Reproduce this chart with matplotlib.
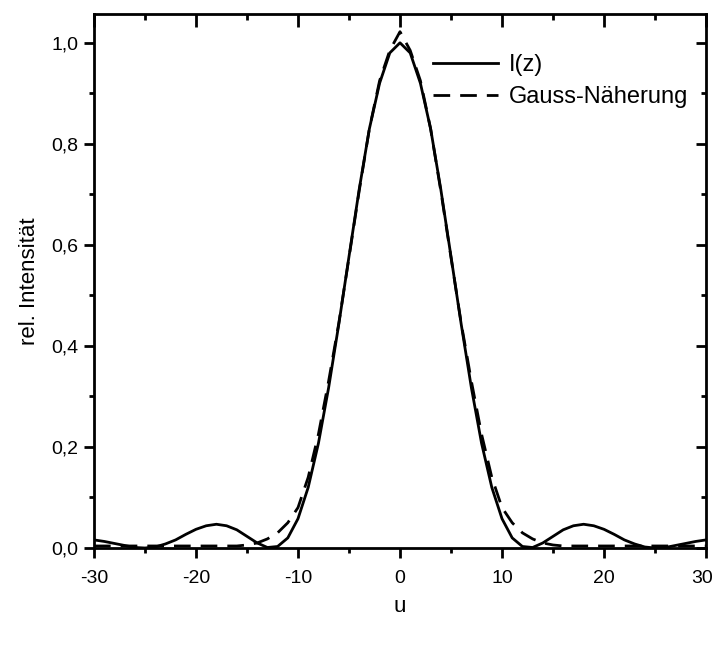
import matplotlib
matplotlib.use("Agg")
import matplotlib.pyplot as plt
from matplotlib.ticker import MultipleLocator, FuncFormatter
from matplotlib.transforms import ScaledTranslation

plt.rcParams['font.family'] = ['Liberation Sans', 'DejaVu Sans']
plt.rcParams['axes.unicode_minus'] = False

# data
u_half = [0, 1, 2, 3, 4, 5, 6, 7, 8, 9, 10, 11, 12, 13, 14, 15,
          16, 17, 18, 19, 20, 21, 22, 23, 24, 25, 26, 27, 28, 29, 30]
intensity_half = [1.0, 0.98, 0.92, 0.83, 0.71, 0.577, 0.443, 0.317, 0.207, 0.12,
                  0.058, 0.02, 0.003, 0.001, 0.01, 0.023, 0.036, 0.044, 0.047, 0.044,
                  0.037, 0.027, 0.016, 0.008, 0.002, 0.0, 0.001, 0.005, 0.009, 0.013, 0.016]
gauss_half = [1.022, 0.985, 0.925, 0.83, 0.707, 0.575, 0.445, 0.33, 0.225, 0.14,
              0.08, 0.05, 0.03, 0.018, 0.01, 0.006, 0.004, 0.004, 0.004, 0.004,
              0.004, 0.004, 0.004, 0.004, 0.004, 0.004, 0.004, 0.004, 0.004, 0.004, 0.004]

u = [-x for x in u_half[:0:-1]] + u_half
intensity = intensity_half[:0:-1] + intensity_half
gauss = gauss_half[:0:-1] + gauss_half

x_ticks = [-30, -20, -10, 0, 10, 20, 30]
y_ticks = [0.0, 0.2, 0.4, 0.6, 0.8, 1.0]

fig = plt.figure(figsize=(7.15, 6.48), dpi=100)
ax = fig.add_axes([94/715, 1 - 548/648, (706-94)/715, (548-14)/648])

ax.plot(u, intensity, color='black', lw=2.0, label='I(z)')
ax.plot(u, gauss, color='black', lw=2.0, linestyle=(0, (6.0, 3.6)), label='Gauss-Näherung')

ax.set_xlim(-30, 30)
ax.set_ylim(0, 1.057)
ax.set_xticks(x_ticks)
ax.set_yticks(y_ticks)
ax.xaxis.set_minor_locator(MultipleLocator(5))
ax.yaxis.set_minor_locator(MultipleLocator(0.1))
ax.yaxis.set_major_formatter(FuncFormatter(lambda v, p: f"{v:.1f}".replace('.', ',')))

for s in ax.spines.values():
    s.set_linewidth(2.0)

ax.tick_params(which='major', direction='out', length=7, width=2.0, labelsize=14)
ax.tick_params(which='minor', direction='out', length=3.5, width=2.0)
ax.tick_params(axis='x', which='major', pad=8.5)
ax.tick_params(axis='y', which='major', pad=4)

# keep the right-most tick label inside the figure
last = ax.get_xticklabels()[-1]
last.set_transform(last.get_transform() + ScaledTranslation(-4/100, 0, fig.dpi_scale_trans))

sx = ax.secondary_xaxis('top')
sx.set_xticks(x_ticks)
sx.xaxis.set_minor_locator(MultipleLocator(5))
sx.tick_params(which='major', direction='in', length=9, width=2.0, labeltop=False)
sx.tick_params(which='minor', direction='in', length=4.5, width=2.0)
sy = ax.secondary_yaxis('right')
sy.set_yticks(y_ticks)
sy.yaxis.set_minor_locator(MultipleLocator(0.1))
sy.tick_params(which='major', direction='in', length=7, width=2.0, labelright=False)
sy.tick_params(which='minor', direction='in', length=3.5, width=2.0)

ax.set_xlabel('u', fontsize=16, labelpad=7)
ax.set_ylabel('rel. Intensität', fontsize=16, labelpad=8)

leg = ax.legend(loc='upper left', bbox_to_anchor=((433-94)/612, 1 - (54-14)/534),
                frameon=False, fontsize=17, handlelength=2.75, handletextpad=0.45,
                labelspacing=0.42, borderaxespad=0, borderpad=0)

fig.savefig('out.png', dpi=100)
